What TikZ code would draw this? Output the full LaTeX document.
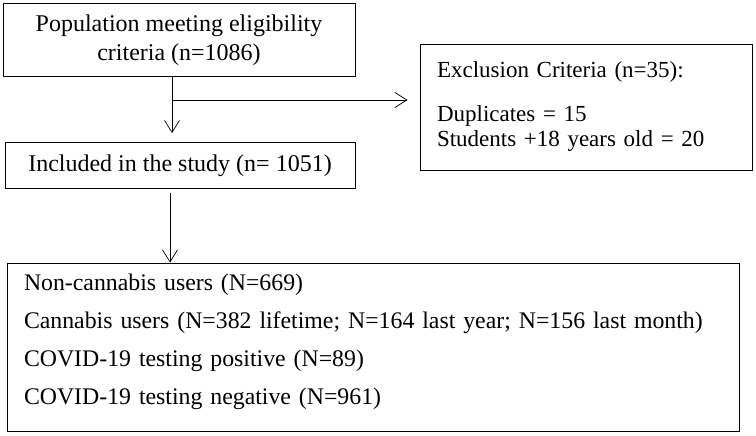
\documentclass[tikz,border=0pt]{standalone}
\usepackage{fontspec}
\setmainfont{Liberation Serif}
\usetikzlibrary{arrows.meta}

\begin{document}
\begin{tikzpicture}[x=1pt,y=-1pt]
  \tikzset{box/.style={draw,line width=0.9pt,rectangle,inner sep=0pt},
           arr/.style={draw,line width=0.7pt,-{Straight Barb[length=12pt,width=15pt]}}}
  \useasboundingbox (0,0) rectangle (756,436);
  \node[box,minimum width=352pt,minimum height=73pt,align=center,font=\fontsize{24}{29}\selectfont] (pop) at (179,40)
      {Population meeting eligibility\\criteria (n=1086)};
  \node[box,minimum width=350pt,minimum height=46pt,font=\fontsize{24}{29}\selectfont] (incl) at (180,165.5)
      {Included in the study (n= 1051)};
  \node[box,minimum width=332pt,minimum height=126pt,text width=298pt,align=left,font=\fontsize{23}{25}\selectfont] (excl) at (586,107)
      {Exclusion Criteria (n=35):\\[19pt]Duplicates = 15\\Students +18 years old = 20};
  \node[box,minimum width=732pt,minimum height=168pt,text width=698pt,align=left,font=\fontsize{23.8}{38}\selectfont] (groups) at (373,347)
      {Non-cannabis users (N=669)\\
       Cannabis users (N=382 lifetime; N=164 last year; N=156 last month)\\
       COVID-19 testing positive (N=89)\\
       COVID-19 testing negative (N=961)\rule[-16pt]{0pt}{0pt}};
  \coordinate (split) at (172,100);
  \coordinate (down) at (170,193);
  \draw[line width=0.7pt] (pop.south -| split) -- (split);
  \draw[arr] (split) -- ([yshift=9pt]incl.north -| split);
  \draw[arr] (split) -- ([xshift=-12pt]excl.west |- split);
  \draw[arr] (down) -- (groups.north -| down);
\end{tikzpicture}
\end{document}
